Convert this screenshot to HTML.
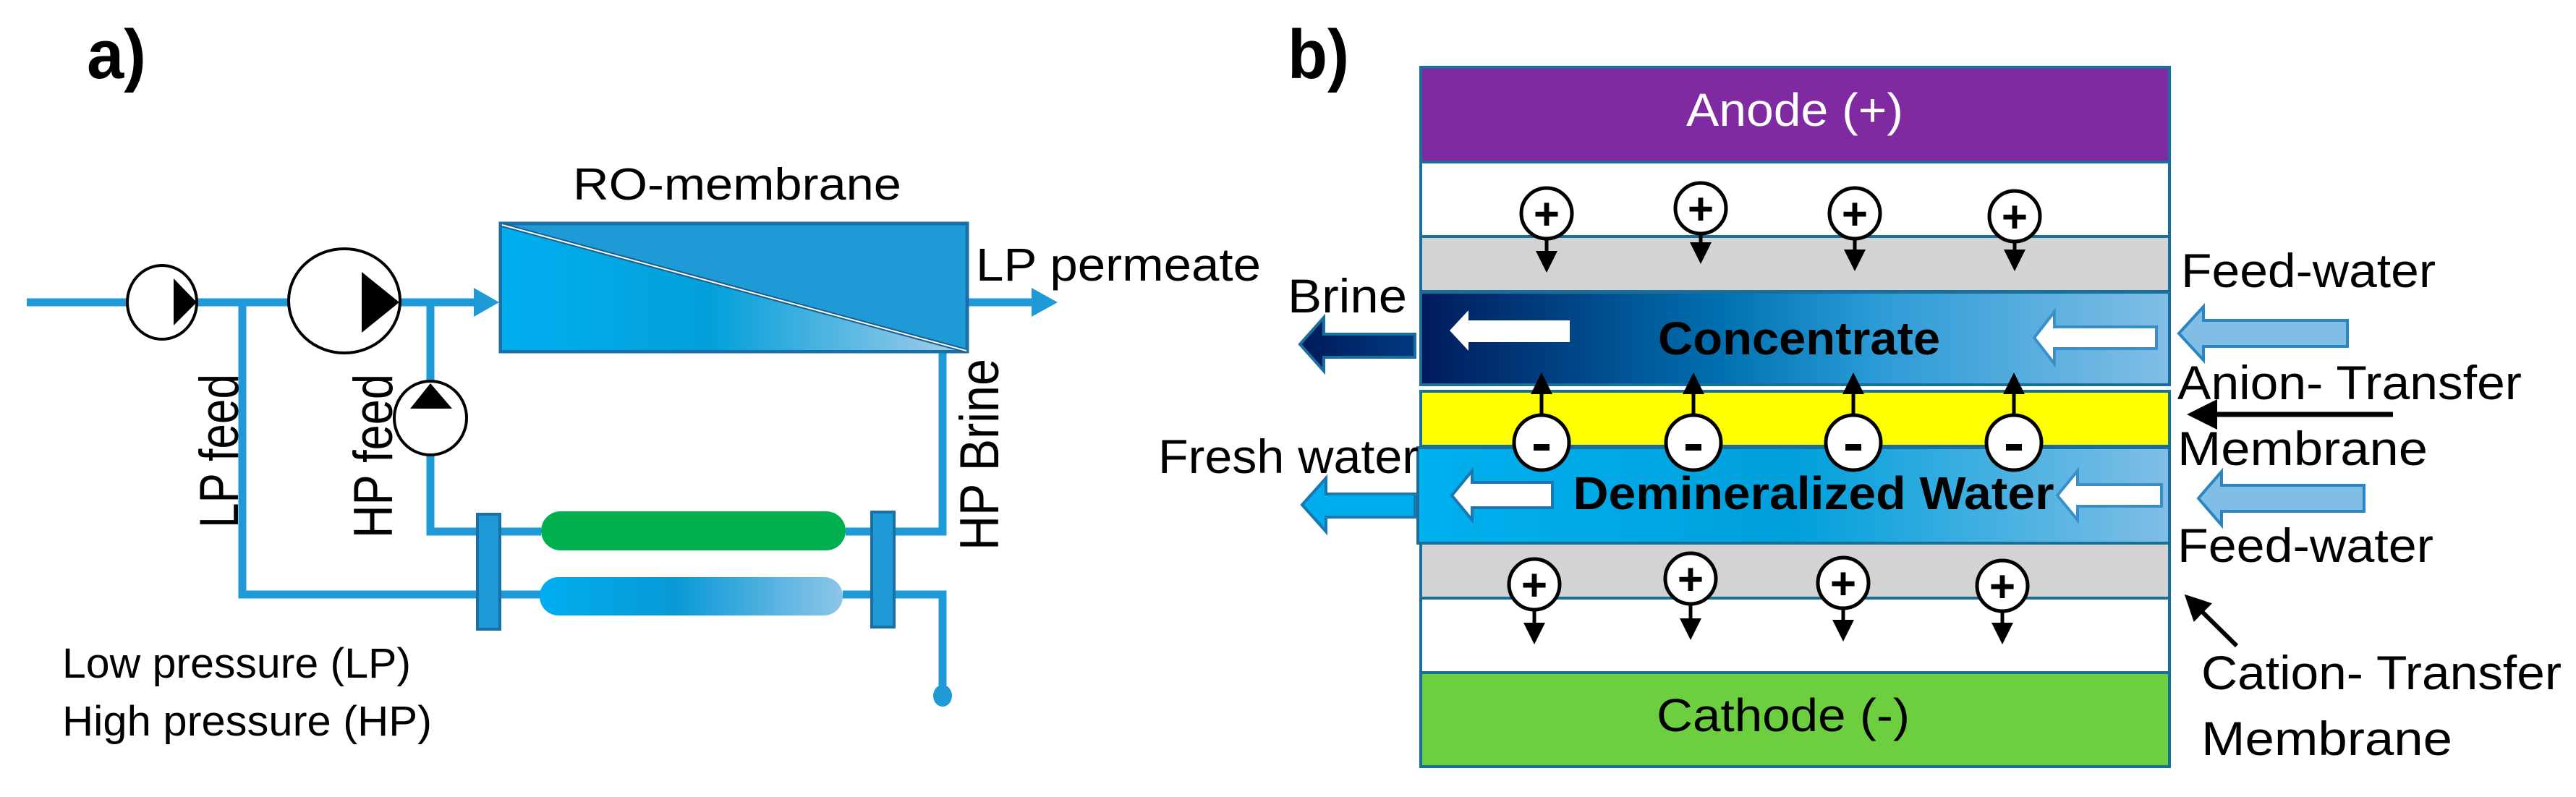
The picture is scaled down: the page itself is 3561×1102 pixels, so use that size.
<!DOCTYPE html>
<html><head><meta charset="utf-8"><style>
html,body{margin:0;padding:0;background:#fff;}
svg{display:block;}
text{font-family:"Liberation Sans",sans-serif;}
</style></head><body>
<svg width="3561" height="1102" viewBox="0 0 3561 1102" xmlns="http://www.w3.org/2000/svg">
<defs>
<linearGradient id="memLow" x1="0" x2="1" y1="0" y2="0">
<stop offset="0" stop-color="#00aeef"/><stop offset="0.45" stop-color="#03a0da"/><stop offset="1" stop-color="#a6cdea"/></linearGradient>
<linearGradient id="pill" x1="0" x2="1"><stop offset="0" stop-color="#00aeef"/><stop offset="0.45" stop-color="#0899d6"/><stop offset="1" stop-color="#8ec5e8"/></linearGradient>
<linearGradient id="conc" x1="0" x2="1"><stop offset="0" stop-color="#001a5c"/><stop offset="0.4" stop-color="#0070b0"/><stop offset="0.6" stop-color="#2a9ad6"/><stop offset="1" stop-color="#80bee6"/></linearGradient>
<linearGradient id="demin" x1="0" x2="1"><stop offset="0" stop-color="#00b0ef"/><stop offset="0.5" stop-color="#00a0dc"/><stop offset="1" stop-color="#80bee6"/></linearGradient>
<linearGradient id="brine" x1="0" x2="1"><stop offset="0" stop-color="#001a5c"/><stop offset="1" stop-color="#003a80"/></linearGradient>
<marker id="ah" markerWidth="6" markerHeight="6" refX="5" refY="3" orient="auto" markerUnits="strokeWidth"><path d="M0,0 L6,3 L0,6 z" fill="#000"/></marker>
</defs>

<!-- ===== Panel a ===== -->
<text x="120" y="108" font-size="96" font-weight="bold" textLength="82" lengthAdjust="spacingAndGlyphs">a)</text>

<g stroke="#1e9ad6" stroke-width="11" fill="none">
<line x1="37" y1="418" x2="178" y2="418"/>
<line x1="272" y1="418" x2="400" y2="418"/>
<line x1="552" y1="418" x2="660" y2="418"/>
<polyline points="335,418 335,822 660,822"/>
<polyline points="691,822 748,822"/>
<polyline points="1165,822 1205,822"/>
<polyline points="1236,822 1303,822 1303,955"/>
<polyline points="595,418 595,528"/>
<polyline points="595,628 595,735 660,735"/>
<polyline points="691,735 748,735"/>
<polyline points="1169,735 1205,735"/>
<polyline points="1236,735 1303,735 1303,486"/>
<line x1="1337" y1="418" x2="1430" y2="418"/>
</g>
<polygon points="655,398 690,418 655,438" fill="#1e9ad6"/>
<polygon points="1426,398 1462,418 1426,438" fill="#1e9ad6"/>
<ellipse cx="1303" cy="962" rx="13" ry="15" fill="#1e9ad6"/>

<!-- pumps -->
<ellipse cx="224" cy="418" rx="48" ry="51" fill="#fff" stroke="#000" stroke-width="4"/>
<polygon points="240,385 272,418 240,450" fill="#000"/>
<ellipse cx="476" cy="416" rx="77" ry="72" fill="#fff" stroke="#000" stroke-width="4"/>
<polygon points="500,376 552,418 500,460" fill="#000"/>
<ellipse cx="595" cy="578" rx="50" ry="51" fill="#fff" stroke="#000" stroke-width="4"/>
<polygon points="567,565 595,530 625,565" fill="#000"/>

<!-- membrane -->
<rect x="692" y="309" width="645" height="177" fill="#1e9ad6" stroke="#1a70a4" stroke-width="5"/>
<polygon points="694,314 1335,484 694,484" fill="url(#memLow)"/>
<line x1="694" y1="311" x2="1336" y2="485" stroke="#1a5f8c" stroke-width="6"/>
<line x1="694" y1="311" x2="1336" y2="485" stroke="#fff" stroke-width="2"/>

<!-- pills and connectors -->
<rect x="748" y="707" width="421" height="54" rx="27" ry="27" fill="#00b04f"/>
<rect x="746" y="798" width="419" height="53" rx="26" ry="26" fill="url(#pill)"/>
<rect x="660" y="711" width="31" height="159" fill="#1e9ad6" stroke="#1a70a4" stroke-width="4"/>
<rect x="1205" y="708" width="31" height="159" fill="#1e9ad6" stroke="#1a70a4" stroke-width="4"/>

<text x="792" y="276" font-size="62" textLength="454" lengthAdjust="spacingAndGlyphs">RO-membrane</text>
<text x="1349" y="388" font-size="64" textLength="394" lengthAdjust="spacingAndGlyphs">LP permeate</text>
<text x="86" y="937" font-size="58" textLength="482" lengthAdjust="spacingAndGlyphs">Low pressure (LP)</text>
<text x="86" y="1017" font-size="58" textLength="511" lengthAdjust="spacingAndGlyphs">High pressure (HP)</text>
<text transform="translate(329,730) rotate(-90)" font-size="76" font-family="DejaVu Sans" textLength="213" lengthAdjust="spacingAndGlyphs">LP feed</text>
<text transform="translate(542,744) rotate(-90)" font-size="76" font-family="DejaVu Sans" textLength="227" lengthAdjust="spacingAndGlyphs">HP feed</text>
<text transform="translate(1380,761) rotate(-90)" font-size="76" font-family="DejaVu Sans" textLength="265" lengthAdjust="spacingAndGlyphs">HP Brine</text>

<!-- ===== Panel b ===== -->
<text x="1780" y="108" font-size="96" font-weight="bold" textLength="85" lengthAdjust="spacingAndGlyphs">b)</text>

<g stroke="#1a6e9a" stroke-width="4">
<rect x="1964" y="93" width="1035" height="131" fill="#7f2aa0"/>
<rect x="1964" y="224" width="1035" height="103" fill="#fff"/>
<rect x="1964" y="327" width="1035" height="76" fill="#d3d3d3"/>
<rect x="1964" y="404" width="1035" height="128" fill="url(#conc)"/>
<rect x="1964" y="541" width="1035" height="76" fill="#ffff00"/>
<rect x="1960" y="619" width="1039" height="132" fill="url(#demin)"/>
<rect x="1964" y="751" width="1035" height="76" fill="#d3d3d3"/>
<rect x="1964" y="827" width="1035" height="103" fill="#fff"/>
<rect x="1964" y="930" width="1035" height="130" fill="#6dcf3f"/>
</g>
<text x="2481" y="174" font-size="64" fill="#fff" text-anchor="middle" textLength="300" lengthAdjust="spacingAndGlyphs">Anode (+)</text>
<text x="2465" y="1011" font-size="64" fill="#000" text-anchor="middle" textLength="350" lengthAdjust="spacingAndGlyphs">Cathode (-)</text>
<text x="2487" y="490" font-size="64" font-weight="bold" text-anchor="middle" textLength="390" lengthAdjust="spacingAndGlyphs">Concentrate</text>
<text x="2507" y="704" font-size="64" font-weight="bold" text-anchor="middle" textLength="665" lengthAdjust="spacingAndGlyphs">Demineralized Water</text>

<!-- white arrows -->
<polygon points="2004,457 2030,429 2030,443 2170,443 2170,473 2030,473 2030,485" fill="#fff"/>
<polygon points="2812,467 2840,431 2840,452 2981,452 2981,482 2840,482 2840,503" fill="#fff" stroke="#3a8fc8" stroke-width="4"/>
<polygon points="2007,685 2035,651 2035,667 2146,667 2146,702 2035,702 2035,719" fill="#fff" stroke="#1a78b0" stroke-width="4"/>
<polygon points="2844,685 2872,651 2872,670 2988,670 2988,700 2872,700 2872,719" fill="#fff" stroke="#3a8fc8" stroke-width="4"/>

<!-- outer arrows -->
<polygon points="1797,476 1830,439 1830,462 1956,462 1956,494 1830,494 1830,513" fill="url(#brine)" stroke="#1a6e9a" stroke-width="4"/>
<polygon points="1800,698 1833,661 1833,683 1956,683 1956,715 1833,715 1833,735" fill="#00aeef" stroke="#1a78b0" stroke-width="4"/>
<polygon points="3012,461 3046,424 3046,443 3245,443 3245,479 3046,479 3046,498" fill="#80bee6" stroke="#2a86c0" stroke-width="4"/>
<polygon points="3039,689 3071,652 3071,671 3268,671 3268,707 3071,707 3071,726" fill="#80bee6" stroke="#2a86c0" stroke-width="4"/>

<!-- ions -->
<g stroke="#000" stroke-width="5" fill="none">
<line x1="2138" y1="328" x2="2138" y2="372" marker-end="url(#ah)"/>
<line x1="2351" y1="321" x2="2351" y2="360" marker-end="url(#ah)"/>
<line x1="2564" y1="328" x2="2564" y2="370" marker-end="url(#ah)"/>
<line x1="2785" y1="332" x2="2785" y2="370" marker-end="url(#ah)"/>
<line x1="2131" y1="578" x2="2131" y2="520" marker-end="url(#ah)"/>
<line x1="2341" y1="578" x2="2341" y2="520" marker-end="url(#ah)"/>
<line x1="2562" y1="578" x2="2562" y2="520" marker-end="url(#ah)"/>
<line x1="2784" y1="578" x2="2784" y2="520" marker-end="url(#ah)"/>
<line x1="2121" y1="840" x2="2121" y2="886" marker-end="url(#ah)"/>
<line x1="2337" y1="832" x2="2337" y2="880" marker-end="url(#ah)"/>
<line x1="2548" y1="840" x2="2548" y2="882" marker-end="url(#ah)"/>
<line x1="2768" y1="842" x2="2768" y2="886" marker-end="url(#ah)"/>
</g>
<g fill="#fff" stroke="#000" stroke-width="5">
<circle cx="2138" cy="295" r="35"/><circle cx="2351" cy="288" r="35"/><circle cx="2564" cy="295" r="35"/><circle cx="2785" cy="299" r="35"/>
<circle cx="2131" cy="612" r="38"/><circle cx="2341" cy="612" r="38"/><circle cx="2562" cy="612" r="38"/><circle cx="2784" cy="612" r="38"/>
<circle cx="2121" cy="808" r="35"/><circle cx="2337" cy="800" r="35"/><circle cx="2548" cy="806" r="35"/><circle cx="2768" cy="810" r="35"/>
</g>
<g font-size="62" font-weight="bold" text-anchor="middle">
<text x="2138" y="317">+</text><text x="2351" y="310">+</text><text x="2564" y="317">+</text><text x="2785" y="321">+</text>
<text x="2121" y="830">+</text><text x="2337" y="822">+</text><text x="2548" y="828">+</text><text x="2768" y="832">+</text>
</g>
<g fill="#000">
<rect x="2120" y="614" width="22" height="9"/><rect x="2330" y="614" width="22" height="9"/><rect x="2551" y="614" width="22" height="9"/><rect x="2773" y="614" width="22" height="9"/>
</g>

<!-- labels -->
<line x1="3308" y1="573" x2="3030" y2="573" stroke="#000" stroke-width="7" marker-end="url(#ah)"/>
<line x1="3092" y1="893" x2="3024" y2="826" stroke="#000" stroke-width="6" marker-end="url(#ah)"/>
<g font-size="66">
<text x="1780" y="432" textLength="165" lengthAdjust="spacingAndGlyphs">Brine</text>
<text x="1601" y="654" textLength="360" lengthAdjust="spacingAndGlyphs">Fresh water</text>
<text x="3015" y="397" textLength="352" lengthAdjust="spacingAndGlyphs">Feed-water</text>
<text x="3010" y="552" textLength="476" lengthAdjust="spacingAndGlyphs">Anion- Transfer</text>
<text x="3010" y="643" textLength="346" lengthAdjust="spacingAndGlyphs">Membrane</text>
<text x="3010" y="777" textLength="354" lengthAdjust="spacingAndGlyphs">Feed-water</text>
<text x="3043" y="953" textLength="498" lengthAdjust="spacingAndGlyphs">Cation- Transfer</text>
<text x="3043" y="1044" textLength="347" lengthAdjust="spacingAndGlyphs">Membrane</text>
</g>
</svg>
</body></html>
